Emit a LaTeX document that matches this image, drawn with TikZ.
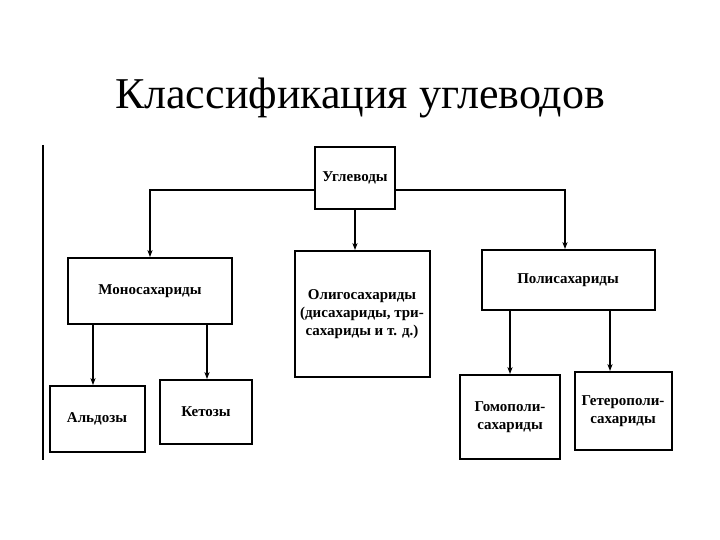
\documentclass[tikz,border=0pt]{standalone}
\usepackage{fontspec}
\usetikzlibrary{arrows.meta}
\setmainfont{Liberation Serif}
\begin{document}
\begin{tikzpicture}[x=1pt,y=-1pt,
  bx/.style={draw,line width=2pt,align=center,font=\fontsize{15}{18}\selectfont\bfseries,inner sep=0},
  ar/.style={line width=1.2pt,-{Stealth[length=7pt]}}]
\useasboundingbox (0,0) rectangle (720,540);
\node[font=\fontsize{44}{48}\selectfont] (t) at (360,98) {Классификация углеводов};
\node[bx,minimum width=80,minimum height=62] (u) at (355,178) {Углеводы};
\node[bx,minimum width=164,minimum height=66] (m) at (150,291) {Моносахариды};
\node[bx,minimum width=135,minimum height=126] (o) at (362,314) {Олигосахариды\\(дисахариды, три-\\сахариды и т. д.)};
\node[bx,minimum width=173,minimum height=60] (p) at (568,280) {Полисахариды};
\node[bx,minimum width=95,minimum height=66] (a) at (97,419) {Альдозы};
\node[bx,minimum width=92,minimum height=64] (k) at (206,412) {Кетозы};
\node[bx,minimum width=100,minimum height=84] (g) at (510,417) {Гомополи-\\сахариды};
\node[bx,minimum width=97,minimum height=78] (h) at (623,411) {Гетерополи-\\сахариды};
\coordinate (ul) at (u.west |- 0,190);
\coordinate (ur) at (u.east |- 0,190);
\draw[ar] (ul) -| (150,0 |- m.north);
\draw[ar] (ur) -| (565,0 |- p.north);
\draw[ar] (u.south) -- (u.south |- o.north);
\draw[ar] (93,0 |- m.south) -- (93,0 |- a.north);
\draw[ar] (207,0 |- m.south) -- (207,0 |- k.north);
\draw[ar] (510,0 |- p.south) -- (510,0 |- g.north);
\draw[ar] (610,0 |- p.south) -- (610,0 |- h.north);
\draw[line width=2pt] (43,145) -- (43,460);
\end{tikzpicture}
\end{document}
